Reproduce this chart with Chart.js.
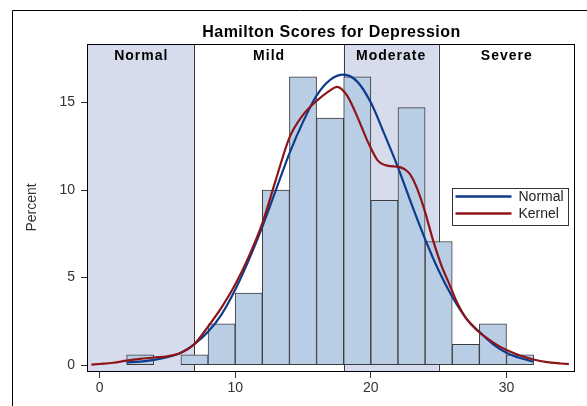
<!DOCTYPE html>
<html>
<head>
<meta charset="utf-8">
<script src="https://cdn.jsdelivr.net/npm/chart.js@4.4.1/dist/chart.umd.min.js"></script>
<style>
  html, body { margin: 0; padding: 0; background: #fff; }
  canvas { display: block; }
</style>
</head>
<body>
<canvas id="chart" width="587" height="406"></canvas>
<script>
// ======= Data =======
const binMids = [3, 5, 7, 9, 11, 13, 15, 17, 19, 21, 23, 25, 27, 29, 31];
const binPct  = [0.59, 0, 0.59, 2.35, 4.12, 10.0, 16.47, 14.12, 16.47, 9.41, 14.71, 7.06, 1.18, 2.35, 0.59];

const normX = [2,3,4,5,6,7,8,9,10,11,12,13,14,15,16,17,18,19,20,21,22,23,24,25,26,27,28,29,30,31,32];
const normY = [0.15,0.2,0.3,0.45,0.7,1.2,1.9,2.9,4.3,6.0,7.9,10.0,12.1,13.9,15.4,16.3,16.6,16.2,15.0,13.2,11.3,9.2,7.2,5.4,3.9,2.7,1.9,1.2,0.7,0.4,0.2];

const kernX = [-0.6,0,1,2,3,4,5,6,7,8,9,10,11,12,13,14,15,16,17,17.5,18.25,19,19.7,20.5,21.2,22.2,22.8,23.3,23.9,24.6,25.2,25.8,26.4,27,27.8,29,30,31,32,33,34,34.6];
const kernY = [0.02,0.06,0.13,0.25,0.35,0.43,0.5,0.7,1.2,2.2,3.3,4.6,6.2,8.1,10.6,13.0,14.3,15.1,15.7,15.9,15.4,14.2,12.9,11.7,11.4,11.3,11.0,10.3,9.0,7.1,5.7,4.6,3.5,2.7,2.0,1.3,0.86,0.55,0.32,0.17,0.09,0.05];

const xTicks = [0, 10, 20, 30];
const yTicks = [0, 5, 10, 15];
const bandNames = ['Normal', 'Mild', 'Moderate', 'Severe'];
const bandEdges = [7, 18, 25];
const seriesNames = ['Normal', 'Kernel'];
const titleText = 'Hamilton Scores for Depression';
const yTitle = 'Percent';

// ======= Style =======
const FONT = '"Liberation Sans", Arial, sans-serif';
const BLUE = '#0d3c8c';
const RED = '#8e1418';
const BAND_FILL = '#d6dcec';
const BAR_FILL = '#b9cde5';

// ======= Decorations (bands, title, frame, legend) =======
const decor = {
  id: 'decor',
  beforeDraw(chart) {
    const ctx = chart.ctx;
    ctx.save();
    ctx.strokeStyle = '#000';
    ctx.lineWidth = 1;
    ctx.beginPath();
    ctx.moveTo(12.5, 406); ctx.lineTo(12.5, 10.5); ctx.lineTo(587, 10.5);
    ctx.stroke();
    ctx.restore();
  },
  beforeDatasetsDraw(chart) {
    const { ctx, chartArea: a, scales: { x } } = chart;
    const edges = [x.min, ...bandEdges, x.max].map(v => x.getPixelForValue(v));
    ctx.save();
    bandNames.forEach((n, i) => {
      if (i % 2 === 0) {
        ctx.fillStyle = BAND_FILL;
        ctx.fillRect(edges[i], a.top, edges[i + 1] - edges[i], a.bottom - a.top);
      }
    });
    ctx.strokeStyle = '#3a3a3a';
    ctx.lineWidth = 1;
    bandEdges.forEach(v => {
      const px = Math.round(x.getPixelForValue(v)) + 0.5;
      ctx.beginPath(); ctx.moveTo(px, a.top); ctx.lineTo(px, a.bottom); ctx.stroke();
    });
    ctx.restore();
  },
  afterDatasetsDraw(chart) {
    const { ctx, chartArea: a, scales: { x } } = chart;
    const edges = [x.min, ...bandEdges, x.max].map(v => x.getPixelForValue(v));
    ctx.save();
    // band labels
    ctx.fillStyle = '#000';
    ctx.font = `bold 14px ${FONT}`;
    ctx.letterSpacing = '1px';
    ctx.textAlign = 'center';
    ctx.textBaseline = 'middle';
    bandNames.forEach((n, i) => ctx.fillText(n, (edges[i] + edges[i + 1]) / 2, a.top + 12));
    // title
    ctx.font = `bold 16px ${FONT}`;
    ctx.letterSpacing = '0.5px';
    ctx.fillText(titleText, (a.left + a.right) / 2, 33);
    ctx.letterSpacing = '0px';
    // plot frame
    ctx.strokeStyle = '#000';
    ctx.lineWidth = 1;
    ctx.strokeRect(Math.round(a.left) - 0.5, Math.round(a.top) + 0.5, Math.round(a.right - a.left), Math.round(a.bottom - a.top));
    // legend
    const lx = 452.5, ly = 188.5, lw = 116, lh = 37;
    ctx.fillStyle = '#fff';
    ctx.fillRect(lx, ly, lw, lh);
    ctx.strokeStyle = '#333';
    ctx.strokeRect(lx, ly, lw, lh);
    const cols = [BLUE, RED];
    ctx.font = `14px ${FONT}`;
    ctx.textAlign = 'left';
    seriesNames.forEach((n, i) => {
      const yy = ly + 8 + i * 17;
      ctx.strokeStyle = cols[i];
      ctx.lineWidth = 2.5;
      ctx.beginPath(); ctx.moveTo(lx + 3, yy); ctx.lineTo(lx + 59, yy); ctx.stroke();
      ctx.fillStyle = '#222';
      ctx.fillText(n, lx + 66, yy + 1);
    });
    ctx.restore();
  }
};

// ======= Chart =======
new Chart(document.getElementById('chart'), {
  type: 'bar',
  data: {
    datasets: [
      {
        type: 'line', label: seriesNames[1], order: 1,
        data: kernX.map((v, i) => ({ x: v, y: kernY[i] })),
        borderColor: RED, borderWidth: 2.2, pointRadius: 0,
        cubicInterpolationMode: 'monotone', fill: false
      },
      {
        type: 'line', label: seriesNames[0], order: 2,
        data: normX.map((v, i) => ({ x: v, y: normY[i] })),
        borderColor: BLUE, borderWidth: 2.2, pointRadius: 0,
        cubicInterpolationMode: 'monotone', fill: false
      },
      {
        type: 'bar', label: 'Percent', order: 3,
        data: binMids.map((v, i) => ({ x: v, y: binPct[i] })),
        backgroundColor: BAR_FILL, borderColor: '#3c3c3c', borderWidth: 1,
        borderSkipped: false, barPercentage: 1, categoryPercentage: 1
      }
    ]
  },
  options: {
    responsive: false,
    devicePixelRatio: 1,
    animation: false,
    layout: { padding: { top: 44, left: 21, right: 12, bottom: 0 } },
    plugins: { legend: { display: false }, tooltip: { enabled: false }, title: { display: false } },
    scales: {
      x: {
        type: 'linear', min: -0.85, max: 35.05, offset: false,
        afterFit: s => { s.height = 406 - 371; },
        afterBuildTicks: s => { s.ticks = xTicks.map(v => ({ value: v })); },
        grid: { display: true, drawOnChartArea: false, drawTicks: true, tickLength: 7, color: '#333', offset: false },
        border: { display: false },
        ticks: { color: '#333', font: { family: FONT, size: 14 }, padding: 2, maxRotation: 0 }
      },
      y: {
        type: 'linear', min: -0.34, max: 18.35,
        afterFit: s => { s.width = 88 - 21; },
        afterBuildTicks: s => { s.ticks = yTicks.map(v => ({ value: v })); },
        grid: { display: true, drawOnChartArea: false, drawTicks: true, tickLength: 7, color: '#333' },
        border: { display: false },
        ticks: { color: '#333', font: { family: FONT, size: 14 }, padding: 6 },
        title: { display: true, text: yTitle, color: '#333', font: { family: FONT, size: 14 }, padding: { top: 3, bottom: 0 } }
      }
    }
  },
  plugins: [decor]
});
</script>
</body>
</html>
